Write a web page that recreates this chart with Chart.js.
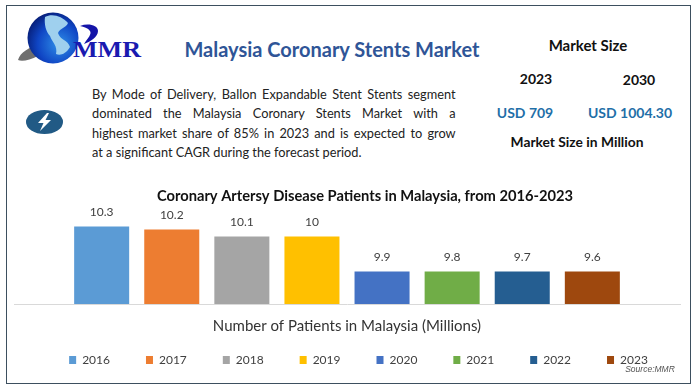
<!DOCTYPE html>
<html>
<head>
<meta charset="utf-8">
<script src="https://cdn.jsdelivr.net/npm/chart.js@4"></script>
<style>
  html, body { margin: 0; padding: 0; background: #fff; }
  #page { position: relative; width: 696px; height: 390px; overflow: hidden; font-family: Lato, sans-serif; color: #111; }
  #frame { position: absolute; left: 6px; top: 5px; width: 683px; height: 377px; border: 1px solid #3d4f5f; }
  #chart { position: absolute; left: 0; top: 0; }
  .txt { position: absolute; white-space: nowrap; transform: translate(-50%, -50%); font-weight: 700; }
  #para { position: absolute; left: 92px; top: 84px; width: 404px; font-size: 14.2px; line-height: 19.4px; color: #222; transform: scaleX(0.9); transform-origin: left top; }
  #para div { white-space: nowrap; text-align: justify; text-align-last: justify; }
  #para div:last-child { text-align-last: left; }
  svg { position: absolute; left: 0; top: 0; }
</style>
</head>
<body>
<div id="page">
  <div id="frame"></div>
  <svg width="160" height="145">
    <defs>
      <radialGradient id="globe" cx="0.62" cy="0.62" r="0.7">
        <stop offset="0" stop-color="#2f8fe8"/>
        <stop offset="0.6" stop-color="#0f45c4"/>
        <stop offset="1" stop-color="#061a70"/>
      </radialGradient>
    </defs>
    <path d="M18 60 C20 52 30 47 40 44 C34 50 32 54 38 56 C30 60 22 62 18 60 Z" fill="#6f6f6f"/>
    <path d="M38 56 C50 62 66 56 76 44 C70 58 52 66 38 56 Z" fill="#8a8a8a"/>
    <circle cx="53" cy="38" r="25.5" fill="url(#globe)"/>
    <path d="M45 17 C52 13 62 16 68 23 C66 28 60 28 58 33 C60 40 68 40 70 47 C66 54 60 56 56 54 C58 46 52 42 50 36 C46 32 44 24 45 17 Z" fill="#9fd0ee"/>
    <path d="M80 26 C88 23 98 25 98 31 C98 37 90 42 84 44 C88 38 92 34 90 31 C88 28 84 27 80 26 Z" fill="#1414a8"/>
    <text x="73" y="57" font-family="Liberation Serif" font-weight="700" font-size="23" fill="#1a1ab0" textLength="68" lengthAdjust="spacingAndGlyphs">MMR</text>
    <ellipse cx="44.5" cy="122" rx="18.5" ry="12" fill="#215a85"/>
    <path d="M47 113 L38 123 L43.5 123 L40 131 L51 120 L45.5 120 L49 113 Z" fill="#fff"/>
  </svg>
  <div class="txt" style="left:332px;top:49px;font-size:20px;color:#2f5597">Malaysia Coronary Stents Market</div>
  <div id="para">
    <div>By Mode of Delivery, Ballon Expandable Stent Stents segment</div>
    <div>dominated the Malaysia Coronary Stents Market with a</div>
    <div>highest market share of 85% in 2023 and is expected to grow</div>
    <div>at a significant CAGR during the forecast period.</div>
  </div>
  <div class="txt" style="left:588px;top:45px;font-size:15px">Market Size</div>
  <div class="txt" style="left:536px;top:78px;font-size:14px">2023</div>
  <div class="txt" style="left:639px;top:79px;font-size:14px">2030</div>
  <div class="txt" style="left:525px;top:112px;font-size:14px;color:#1f6fa8">USD 709</div>
  <div class="txt" style="left:630px;top:112px;font-size:14px;color:#1f6fa8">USD 1004.30</div>
  <div class="txt" style="left:577px;top:141px;font-size:13.8px">Market Size in Million</div>
  <canvas id="chart" width="696" height="390"></canvas>
  <div class="txt" style="left:650px;top:369px;font-size:8.5px;font-weight:400;font-style:italic;color:#555;font-family:'Liberation Sans'">Source:MMR</div>
</div>
<script>
var years = ['2016', '2017', '2018', '2019', '2020', '2021', '2022', '2023'];
// printed labels
var patients = ['10.3', '10.2', '10.1', '10', '9.9', '9.8', '9.7', '9.6'];
// bar tops as they stand in the picture, they step unevenly and do not follow the printed labels
var barLevels = [10.3, 10.26, 10.17, 10.17, 9.72, 9.72, 9.72, 9.72];
var colors = ['#5b9bd5', '#ed7d31', '#a5a5a5', '#ffc000', '#4472c4', '#70ad47', '#255e91', '#9e480e'];

var datasets = [];
for (var i in years) {
  datasets.push({
    label: years[i],
    data: [barLevels[i]],
    backgroundColor: colors[i],
    borderWidth: 0,
    categoryPercentage: 0.842,
    barPercentage: 0.785
  });
}

var barLabels = {
  id: 'barLabels',
  afterLayout: function(chart) {
    // title and legend are off centre in the original
    chart.titleBlock.left += 18;
    chart.titleBlock.right += 18;
    chart.legend.left += 11.5;
    chart.legend.right += 11.5;
  },
  afterDatasetsDraw: function(chart) {
    var ctx = chart.ctx;
    ctx.save();
    ctx.font = '12px Lato';
    ctx.fillStyle = '#404040';
    ctx.textAlign = 'center';
    ctx.textBaseline = 'middle';
    for (var i in years) {
      var bar = chart.getDatasetMeta(i).data[0];
      ctx.fillText(patients[i], bar.x, bar.y - 14);
    }
    ctx.restore();
  }
};

new Chart(document.getElementById('chart'), {
  type: 'bar',
  data: { labels: [''], datasets: datasets },
  plugins: [barLabels],
  options: {
    responsive: false,
    animation: false,
    layout: { padding: { left: 14, right: 16, top: 187, bottom: 14 } },
    plugins: {
      title: {
        display: true,
        text: 'Coronary Artersy Disease Patients in Malaysia, from 2016-2023',
        font: { family: 'Lato', size: 14.7, weight: 'bold' },
        color: '#111',
        padding: { top: 0, bottom: 4 }
      },
      legend: {
        position: 'bottom',
        labels: {
          boxWidth: 7,
          boxHeight: 8,
          padding: 36,
          color: '#404040',
          font: { family: 'Lato', size: 12 }
        }
      },
      tooltip: { enabled: false }
    },
    scales: {
      x: {
        grid: { display: false },
        border: { color: '#d9d9d9' },
        ticks: { display: false },
        title: {
          display: true,
          text: 'Number of Patients in Malaysia (Millions)',
          font: { family: 'Lato', size: 15 },
          color: '#333',
          padding: { top: 5, bottom: -17 }
        }
      },
      y: { display: false, min: 9.3, max: 10.53 }
    }
  }
});
</script>
</body>
</html>
